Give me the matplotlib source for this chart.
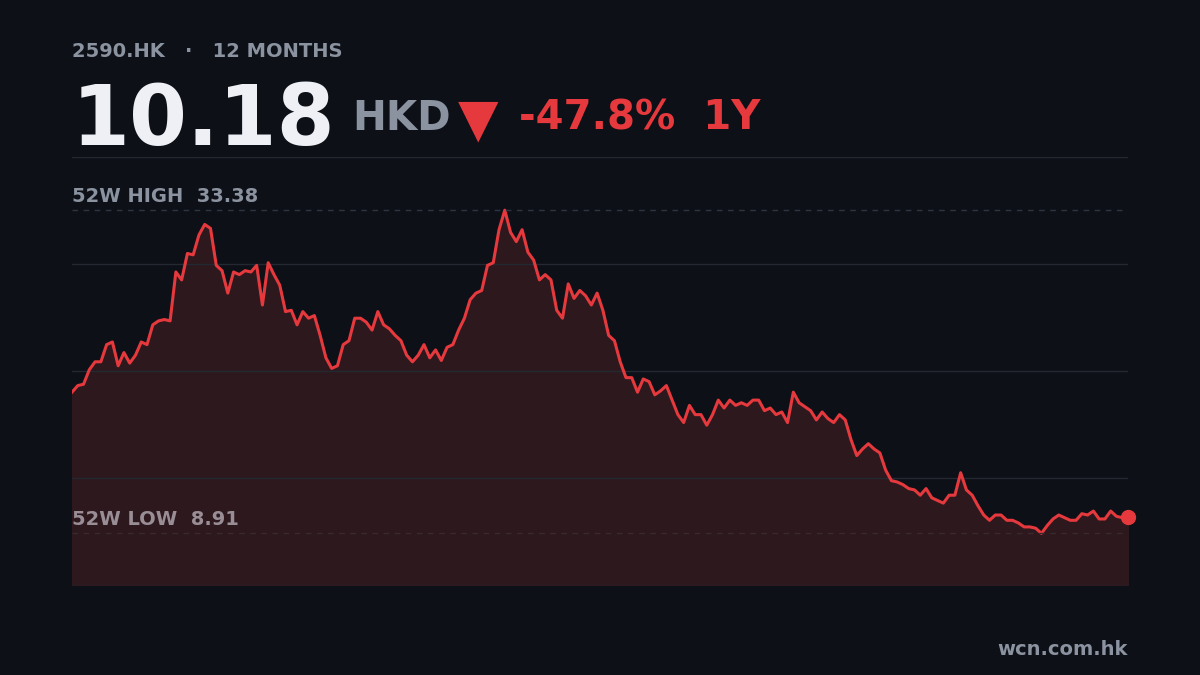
import matplotlib.pyplot as plt
import numpy as np

ticker = "2590.HK"
period = "12 MONTHS"
last_price = "10.18"
currency = "HKD"
change = "-47.8%"
span = "1Y"
high_52w = 33.38
low_52w = 8.91
site = "wcn.com.hk"

prices = [
    19.6, 20.1, 20.2, 21.3, 21.9, 21.9, 23.2, 23.4, 21.6, 22.6, 21.8, 22.4, 23.4, 23.2,
    24.7, 25.0, 25.1, 25.0, 28.7, 28.1, 30.1, 30.0, 31.5, 32.3, 32.0, 29.2, 28.8, 27.1,
    28.7, 28.5, 28.8, 28.7, 29.2, 26.2, 29.4, 28.5, 27.7, 25.7, 25.8, 24.7, 25.7, 25.2,
    25.4, 23.9, 22.2, 21.4, 21.6, 23.2, 23.5, 25.2, 25.2, 24.9, 24.3, 25.7, 24.7, 24.4,
    23.9, 23.5, 22.4, 21.9, 22.4, 23.2, 22.2, 22.8, 22.0, 23.0, 23.2, 24.3, 25.2, 26.6,
    27.1, 27.3, 29.2, 29.4, 31.9, 33.38, 31.7, 31.0, 31.9, 30.2, 29.6, 28.1, 28.5, 28.1,
    25.8, 25.2, 27.8, 26.7, 27.3, 26.9, 26.2, 27.1, 25.8, 23.9, 23.5, 21.9, 20.7, 20.7,
    19.6, 20.6, 20.4, 19.4, 19.7, 20.1, 19.0, 17.9, 17.3, 18.6, 17.9, 17.9, 17.1, 17.9,
    19.0, 18.4, 19.0, 18.6, 18.8, 18.6, 19.0, 19.0, 18.2, 18.4, 17.9, 18.1, 17.3, 19.6,
    18.8, 18.5, 18.2, 17.5, 18.1, 17.6, 17.3, 17.9, 17.5, 16.0, 14.8, 15.3, 15.7, 15.3,
    15.0, 13.7, 12.9, 12.8, 12.6, 12.3, 12.2, 11.8, 12.3, 11.6, 11.4, 11.2, 11.8, 11.8,
    13.5, 12.2, 11.8, 11.0, 10.3, 9.9, 10.3, 10.3, 9.9, 9.9, 9.7, 9.4, 9.4, 9.3,
    8.91, 9.5, 10.0, 10.3, 10.1, 9.9, 9.9, 10.4, 10.3, 10.6, 10.0, 10.0, 10.6, 10.2,
    10.1, 10.18,
]

bg = "#0d1017"
red = "#e5393d"
gray = "#8b93a1"
grid = "#242831"

fig = plt.figure(figsize=(12, 6.75), dpi=100, facecolor=bg)
ax = fig.add_axes([0.06, 0.1333, 0.88, 0.634])
ax.set_facecolor(bg)

x = np.arange(len(prices))
ax.fill_between(x, prices, 0, color="#2c181d")
ax.plot(x, prices, color=red, lw=2.2, solid_joinstyle="round")
ax.plot(x[-1], prices[-1], "o", color=red, ms=10, clip_on=False)

ymin, ymax = 5.0, 37.4
ax.set_xlim(0, len(prices) - 1)
ax.set_ylim(ymin, ymax)
ax.set_yticks(np.linspace(ymin, ymax, 5))
ax.set_xticks([])
ax.grid(axis="y", color=grid, lw=1)
ax.tick_params(length=0, labelleft=False)
for s in ax.spines.values():
    s.set_visible(False)

ax.axhline(high_52w, color="#2f3540", lw=1, ls=(0, (4, 4)))
ax.axhline(low_52w, color="#3a2a30", lw=1, ls=(0, (4, 4)))
ax.annotate(f"52W HIGH  {high_52w:.2f}", (0, high_52w), xytext=(0, 3),
            textcoords="offset points", color=gray, fontsize=14, fontweight="bold", va="bottom")
ax.annotate(f"52W LOW  {low_52w:.2f}", (0, low_52w), xytext=(0, 3),
            textcoords="offset points", color="#9a8e96", fontsize=14, fontweight="bold", va="bottom")

# header
fig.text(0.06, 1 - 57 / 675, f"{ticker}   ·   {period}", color=gray, fontsize=14,
         fontweight="bold", va="baseline")
fig.text(0.06, 1 - 145 / 675, last_price, color="#eef0f6", fontsize=60,
         fontweight="bold", va="baseline")
fig.text(352 / 1200, 1 - 130 / 675, currency, color=gray, fontsize=29,
         fontweight="bold", va="baseline")
fig.text(458 / 1200, 1 - 135 / 675, "▼", color=red, fontsize=38, va="baseline")
fig.text(519 / 1200, 1 - 130 / 675, f"{change}  {span}", color=red, fontsize=29,
         fontweight="bold", va="baseline")

fig.text(1128 / 1200, 1 - 655 / 675, site, color=gray, fontsize=14,
         fontweight="bold", ha="right", va="baseline")

fig.savefig("out.png", facecolor=bg)
